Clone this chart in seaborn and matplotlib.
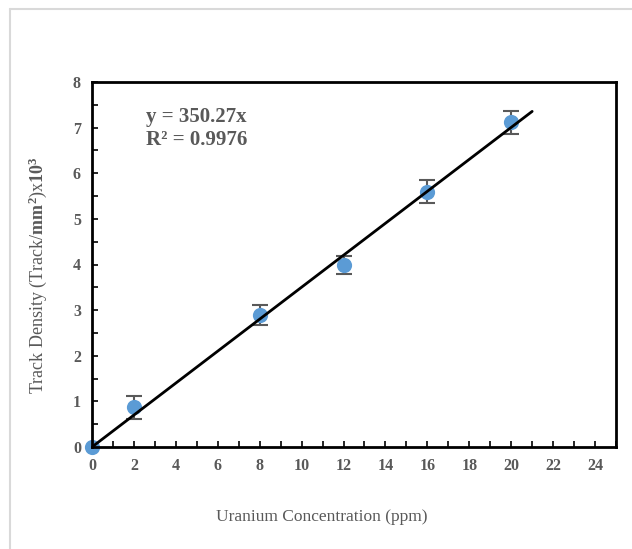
import numpy as np
import pandas as pd
import matplotlib
matplotlib.use("Agg")
import matplotlib.pyplot as plt
from matplotlib.lines import Line2D
from matplotlib.ticker import MultipleLocator
import seaborn as sns

# Calibration data: uranium concentration vs. track density (x10^3 tracks/mm^2)
concentration = [0, 2, 8, 12, 16, 20]
track_density = [0.0, 0.87, 2.89, 3.99, 5.60, 7.12]
density_error = [0.0, 0.25, 0.22, 0.19, 0.25, 0.25]

# Linear fit through origin (slope in tracks/mm^2 per ppm)
fit_slope = 350.27
fit_r2 = 0.9976
fit_x = [0, 21]

sns.set_theme(style="white")
plt.rcParams["font.family"] = ["Liberation Serif", "DejaVu Serif"]
plt.rcParams["mathtext.fontset"] = "custom"
plt.rcParams["mathtext.rm"] = "Liberation Serif"
plt.rcParams["mathtext.bf"] = "Liberation Serif:bold"

gray = "#595959"
blue = "#5B9BD5"

fig = plt.figure(figsize=(6.32, 5.49), dpi=100)
ax = fig.add_axes([92 / 632, 1 - 447 / 549, (616 - 92) / 632, (447 - 82) / 549])

df = pd.DataFrame({"conc": concentration, "dens": track_density, "err": density_error})
fit_df = pd.DataFrame({"x": fit_x, "y": [fit_slope / 1000 * v for v in fit_x]})

ax.errorbar(df["conc"], df["dens"], yerr=df["err"], fmt="none", ecolor=gray,
            elinewidth=1.5, capsize=6, capthick=1.5, zorder=2)
sns.scatterplot(data=df, x="conc", y="dens", ax=ax, s=120, color=blue,
                edgecolor=blue, linewidth=0, zorder=3, legend=False, clip_on=False)
sns.lineplot(data=fit_df, x="x", y="y", ax=ax, color="black", linewidth=2, zorder=4)

ax.set_xlim(0, 25)
ax.set_ylim(0, 8)
ax.xaxis.set_major_locator(MultipleLocator(2))
ax.xaxis.set_minor_locator(MultipleLocator(1))
ax.yaxis.set_major_locator(MultipleLocator(1))
ax.yaxis.set_minor_locator(MultipleLocator(0.5))
ax.set_xticks(range(0, 25, 2))

for sp in ax.spines.values():
    sp.set_color("black")
    sp.set_linewidth(2)
    sp.set_visible(True)
    sp.set_zorder(5)

ax.tick_params(axis="both", which="both", direction="in", color="black",
               width=1.2, length=4, labelsize=11.5, labelcolor=gray, pad=8)
ax.tick_params(axis="x", which="both", bottom=True, top=False)
ax.tick_params(axis="y", which="both", left=True, right=False)
for lab in ax.get_xticklabels() + ax.get_yticklabels():
    lab.set_fontweight("bold")

ax.set_xlabel("Uranium Concentration (ppm)", fontsize=12.5, color=gray)
ax.set_ylabel(r"Track Density (Track/$\mathbf{mm^2}$)x$\mathbf{10^3}$",
              fontsize=13, color=gray)
ax.xaxis.label.set_va("center")
ax.yaxis.label.set_va("center")
ax.xaxis.set_label_coords((322 - 92) / 524, -(517 - 447) / 365)
ax.yaxis.set_label_coords(-(92 - 38) / 524, (447 - 275) / 365)

ax.text(0.103, 0.905, f"y = {fit_slope:.2f}x", transform=ax.transAxes,
        fontsize=15, fontweight="bold", color=gray, va="center", ha="left")
ax.text(0.103, 0.842, f"R² = {fit_r2:.4f}", transform=ax.transAxes,
        fontsize=15, fontweight="bold", color=gray, va="center", ha="left")

# Chart-area frame on the left and top
fig.add_artist(Line2D([10.5 / 632, 10.5 / 632], [0, 1 - 9 / 549],
                      transform=fig.transFigure, color="#D9D9D9", linewidth=1.5))
fig.add_artist(Line2D([10.5 / 632, 1], [1 - 9 / 549, 1 - 9 / 549],
                      transform=fig.transFigure, color="#D9D9D9", linewidth=1.5))

fig.savefig("out.png", dpi=100, facecolor="white")
